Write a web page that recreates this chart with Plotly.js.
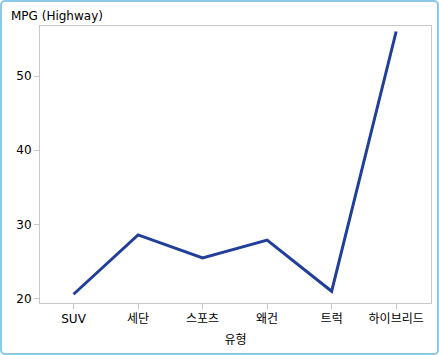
<!DOCTYPE html>
<html>
<head>
<meta charset="utf-8">
<script src="https://cdn.plot.ly/plotly-3.0.1.min.js"></script>
<style>
html,body{margin:0;padding:0;background:#fff;}
#wrap{position:relative;width:439px;height:355px;}
#chart{position:absolute;left:0;top:0;width:439px;height:355px;}
#frame{position:absolute;left:0;top:0;width:435px;height:351px;border:2px solid #8ec8e8;border-radius:5px;pointer-events:none;}
</style>
</head>
<body>
<div id="wrap"><div id="chart"></div><div id="frame"></div></div>
<script>
const categories = ["SUV", "세단", "스포츠", "왜건", "트럭", "하이브리드"];
const mpgHighway = [20.6, 28.6, 25.5, 27.9, 21.0, 56.0];
const yTicks = [20, 30, 40, 50];

const FONT = {family: '"DejaVu Sans", "Noto Sans CJK KR", sans-serif', size: 12, color: '#000'};

const trace = {
  x: categories,
  y: mpgHighway,
  type: 'scatter',
  mode: 'lines',
  line: {color: '#213f99', width: 3},
  hoverinfo: 'none'
};

const layout = {
  width: 439, height: 355,
  margin: {l: 40, r: 8, t: 26, b: 52},
  paper_bgcolor: '#fff', plot_bgcolor: '#fff',
  font: FONT,
  showlegend: false,
  xaxis: {
    type: 'category',
    range: [-0.52, 5.54],
    showgrid: false, zeroline: false,
    showline: true, linecolor: '#c8c8c8', linewidth: 1, mirror: true,
    ticks: 'outside', ticklen: 5, tickcolor: '#c8c8c8',
    tickfont: FONT,
    title: {text: '유형', font: FONT, standoff: 10}
  },
  yaxis: {
    range: [19.42, 56.74],
    tickvals: yTicks,
    showgrid: false, zeroline: false,
    showline: true, linecolor: '#c8c8c8', linewidth: 1, mirror: true,
    ticks: 'outside', ticklen: 5, tickcolor: '#c8c8c8',
    tickfont: FONT
  },
  annotations: [{
    text: 'MPG (Highway)', xref: 'paper', yref: 'paper',
    x: 0, y: 1, xanchor: 'left', yanchor: 'bottom',
    xshift: -31, yshift: 1, showarrow: false, font: FONT
  }]
};

Plotly.newPlot('chart', [trace], layout, {displayModeBar: false, staticPlot: true});
</script>
</body>
</html>
